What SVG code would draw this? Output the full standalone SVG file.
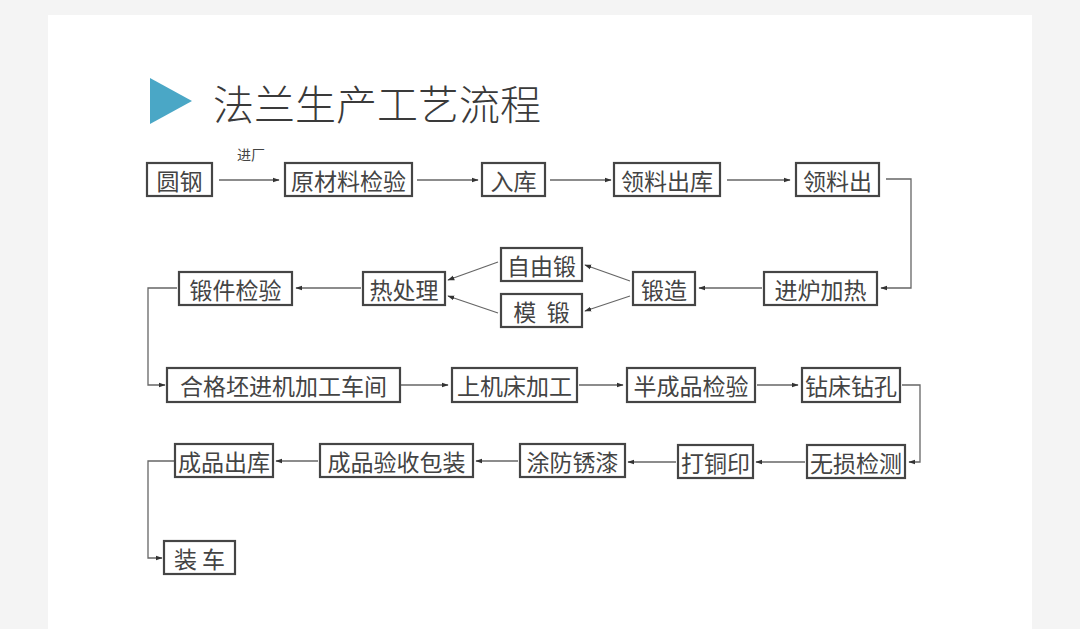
<svg xmlns="http://www.w3.org/2000/svg" width="1080" height="629" viewBox="0 0 1080 629">
<defs>
<style>
.box{fill:#fff;stroke:#454545;stroke-width:2.2}
.t{font-family:"Noto Sans CJK SC","Noto Sans",sans-serif;font-size:23px;fill:#444;text-anchor:middle;dominant-baseline:central}
.c{fill:none;stroke:#666;stroke-width:1.3}
.lbl{font-family:"Noto Sans CJK SC","Noto Sans",sans-serif;font-size:14px;fill:#444;text-anchor:middle}
</style>
<marker id="ah" viewBox="0 0 10 10" refX="9" refY="5" markerWidth="7" markerHeight="7" markerUnits="userSpaceOnUse" orient="auto">
<path d="M0,1.5 L10,5 L0,8.5 Z" fill="#333"/>
</marker>
</defs>
<rect x="0" y="0" width="1080" height="629" fill="#f4f4f4"/>
<rect x="48" y="15" width="984" height="614" fill="#fff"/>
<polygon points="150,78 150,124 192,101" fill="#4aa7c6"/>
<text x="213" y="102" font-family="'Noto Sans CJK SC',sans-serif" font-size="41" fill="#3a3a3a" dominant-baseline="central" font-weight="300">法兰生产工艺流程</text>

<g id="connectors">
<line class="c" x1="219" y1="180" x2="279" y2="180" marker-end="url(#ah)"/>
<text class="lbl" x="251" y="160">进厂</text>
<line class="c" x1="417" y1="180" x2="478" y2="180" marker-end="url(#ah)"/>
<line class="c" x1="550" y1="180" x2="611" y2="180" marker-end="url(#ah)"/>
<line class="c" x1="727" y1="180" x2="790" y2="180" marker-end="url(#ah)"/>
<polyline class="c" points="886,179 911,179 911,288 881,288" marker-end="url(#ah)"/>
<line class="c" x1="762" y1="288" x2="699" y2="288" marker-end="url(#ah)"/>
<line class="c" x1="630" y1="281" x2="585" y2="265" marker-end="url(#ah)"/>
<line class="c" x1="630" y1="296" x2="585" y2="311" marker-end="url(#ah)"/>
<line class="c" x1="498" y1="262" x2="448" y2="280" marker-end="url(#ah)"/>
<line class="c" x1="498" y1="313" x2="448" y2="296" marker-end="url(#ah)"/>
<line class="c" x1="361" y1="288" x2="296" y2="288" marker-end="url(#ah)"/>
<polyline class="c" points="177,288 148,288 148,385 165,385" marker-end="url(#ah)"/>
<line class="c" x1="401" y1="385" x2="448" y2="385" marker-end="url(#ah)"/>
<line class="c" x1="579" y1="385" x2="623" y2="385" marker-end="url(#ah)"/>
<line class="c" x1="757" y1="385" x2="798" y2="385" marker-end="url(#ah)"/>
<polyline class="c" points="902,385 920,385 920,462 909,462" marker-end="url(#ah)"/>
<line class="c" x1="805" y1="462" x2="756" y2="462" marker-end="url(#ah)"/>
<line class="c" x1="676" y1="462" x2="628" y2="462" marker-end="url(#ah)"/>
<line class="c" x1="518" y1="461" x2="476" y2="461" marker-end="url(#ah)"/>
<line class="c" x1="318" y1="461" x2="276" y2="461" marker-end="url(#ah)"/>
<polyline class="c" points="175,461 148,461 148,558 162,558" marker-end="url(#ah)"/>
</g>

<g id="n1"><rect class="box" x="147" y="163" width="65" height="33"/><text class="t" x="179.5" y="180">圆钢</text></g>
<g id="n2"><rect class="box" x="285" y="163" width="127" height="33"/><text class="t" x="348.5" y="180">原材料检验</text></g>
<g id="n3"><rect class="box" x="482" y="163" width="63" height="33"/><text class="t" x="513.5" y="180">入库</text></g>
<g id="n4"><rect class="box" x="614" y="163" width="106" height="33"/><text class="t" x="667" y="180">领料出库</text></g>
<g id="n5"><rect class="box" x="796" y="163" width="83" height="33"/><text class="t" x="837.5" y="180">领料出</text></g>

<g id="n6"><rect class="box" x="764" y="272" width="113" height="33"/><text class="t" x="820.5" y="288.5">进炉加热</text></g>
<g id="n7"><rect class="box" x="633" y="272" width="62" height="33"/><text class="t" x="664" y="288.5">锻造</text></g>
<g id="n8"><rect class="box" x="501" y="248" width="81" height="33"/><text class="t" x="541.5" y="264.5">自由锻</text></g>
<g id="n9"><rect class="box" x="501" y="294" width="81" height="33"/><text class="t" x="541.5" y="310.5" xml:space="preserve">模  锻</text></g>
<g id="n10"><rect class="box" x="363" y="272" width="82" height="33"/><text class="t" x="404" y="288.5">热处理</text></g>
<g id="n11"><rect class="box" x="179" y="272" width="113" height="33"/><text class="t" x="235.5" y="288.5">锻件检验</text></g>

<g id="n12"><rect class="box" x="167" y="368" width="233" height="34"/><text class="t" x="283.5" y="385">合格坯进机加工车间</text></g>
<g id="n13"><rect class="box" x="452" y="368" width="125" height="34"/><text class="t" x="514.5" y="385">上机床加工</text></g>
<g id="n14"><rect class="box" x="627" y="368" width="128" height="34"/><text class="t" x="691" y="385">半成品检验</text></g>
<g id="n15"><rect class="box" x="802" y="368" width="98" height="34"/><text class="t" x="851" y="385">钻床钻孔</text></g>

<g id="n16"><rect class="box" x="807" y="445" width="98" height="33"/><text class="t" x="856" y="461.5">无损检测</text></g>
<g id="n17"><rect class="box" x="678" y="445" width="75" height="33"/><text class="t" x="715.5" y="461.5">打铜印</text></g>
<g id="n18"><rect class="box" x="520" y="444" width="105" height="33"/><text class="t" x="572.5" y="460.5">涂防锈漆</text></g>
<g id="n19"><rect class="box" x="320" y="444" width="153" height="33"/><text class="t" x="396.5" y="460.5">成品验收包装</text></g>
<g id="n20"><rect class="box" x="175" y="444" width="98" height="33"/><text class="t" x="224" y="460.5">成品出库</text></g>
<g id="n21"><rect class="box" x="164" y="541" width="71" height="33"/><text class="t" x="199.5" y="557.5" xml:space="preserve">装 车</text></g>
</svg>
